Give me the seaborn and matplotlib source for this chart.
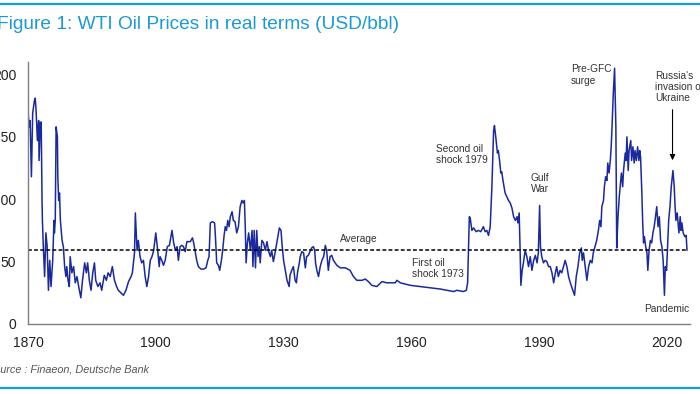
import numpy as np
import pandas as pd
import matplotlib
matplotlib.use("Agg")
import matplotlib.pyplot as plt
import seaborn as sns

# values (year, real USD/bbl)
years = [1870.0, 1870.3, 1870.5, 1870.8, 1871.1, 1871.5, 1871.7, 1871.9, 1872.2, 1872.5,
         1872.6, 1872.9, 1873.1, 1873.3, 1873.4, 1873.6, 1873.9, 1874.2, 1874.5, 1874.8,
         1875.1, 1875.4, 1875.8, 1876.1, 1876.2, 1876.4, 1876.6, 1876.9, 1877.0, 1877.2,
         1877.4, 1877.6, 1878.0, 1878.3, 1878.6, 1878.9, 1879.1, 1879.4, 1879.7, 1879.9,
         1880.3, 1880.7, 1881.1, 1881.5, 1881.9, 1882.4, 1882.8, 1883.3, 1883.7, 1884.0,
         1884.4, 1884.8, 1885.2, 1885.6, 1885.9, 1886.4, 1886.9, 1887.3, 1887.9, 1888.4,
         1888.8, 1889.3, 1889.8, 1890.3, 1890.8, 1891.2, 1891.8, 1892.4, 1893.0, 1893.6,
         1894.2, 1894.5, 1895.0, 1895.2, 1895.6, 1895.9, 1896.3, 1896.7, 1897.1, 1897.5,
         1897.9, 1898.3, 1898.7, 1899.1, 1899.5, 1900.0, 1900.5, 1900.8, 1901.0, 1901.4,
         1901.8, 1902.2, 1902.7, 1903.2, 1903.8, 1904.2, 1904.6, 1905.0, 1905.3, 1905.7,
         1906.1, 1906.5, 1906.9, 1907.3, 1908.1, 1908.6, 1908.9, 1909.2, 1909.6, 1910.0,
         1910.6, 1911.2, 1911.8, 1912.2, 1912.5, 1912.8, 1913.3, 1913.8, 1914.0, 1914.3,
         1914.7, 1915.0, 1915.4, 1915.7, 1916.0, 1916.3, 1916.6, 1916.9, 1917.2, 1917.5,
         1917.9, 1918.2, 1918.6, 1919.0, 1919.4, 1919.8, 1920.2, 1920.5, 1920.8, 1921.0,
         1921.2, 1921.5, 1921.8, 1922.2, 1922.6, 1922.8, 1923.1, 1923.4, 1923.7, 1924.0,
         1924.3, 1924.5, 1924.9, 1925.3, 1925.7, 1926.1, 1926.5, 1926.9, 1927.2, 1927.6,
         1928.0, 1928.4, 1929.0, 1929.4, 1929.6, 1930.0, 1930.4, 1930.8, 1931.3, 1931.5,
         1931.9, 1932.3, 1932.7, 1933.0, 1933.3, 1933.7, 1933.9, 1934.3, 1934.7, 1935.1,
         1935.4, 1935.8, 1936.2, 1936.6, 1937.0, 1937.3, 1937.5, 1937.8, 1938.2, 1938.6,
         1939.0, 1939.4, 1939.8, 1940.1, 1940.5, 1940.9, 1941.3, 1941.7, 1942.5, 1943.3,
         1944.5, 1945.6, 1946.4, 1947.2, 1948.4, 1949.2, 1949.9, 1950.7, 1951.9, 1953.1,
         1954.2, 1956.2, 1956.6, 1957.4, 1959.7, 1962.1, 1964.4, 1966.8, 1968.3, 1969.9,
         1970.7, 1972.2, 1972.9, 1973.2, 1973.6, 1973.8, 1974.2, 1974.6, 1975.2, 1975.7,
         1976.3, 1976.9, 1977.3, 1977.7, 1978.1, 1978.5, 1978.9, 1979.3, 1979.5, 1979.8,
         1980.2, 1980.4, 1980.7, 1981.0, 1981.2, 1981.6, 1982.0, 1982.4, 1982.8, 1983.2,
         1983.6, 1984.0, 1984.4, 1984.8, 1985.0, 1985.3, 1985.5, 1985.7, 1986.0, 1986.3,
         1986.7, 1987.1, 1987.5, 1987.9, 1988.3, 1988.7, 1989.1, 1989.5, 1989.8, 1990.1,
         1990.3, 1990.6, 1991.0, 1991.4, 1991.8, 1992.2, 1992.6, 1993.0, 1993.4, 1993.8,
         1994.1, 1994.5, 1994.9, 1995.3, 1995.7, 1996.1, 1996.5, 1996.9, 1997.3, 1997.9,
         1998.3, 1998.7, 1999.1, 1999.5, 1999.9, 2000.1, 2000.4, 2000.8, 2001.2, 2001.6,
         2002.0, 2002.4, 2002.7, 2003.1, 2003.5, 2003.9, 2004.2, 2004.5, 2004.7, 2005.1,
         2005.3, 2005.6, 2005.9, 2006.1, 2006.4, 2006.7, 2006.9, 2007.1, 2007.4, 2007.7,
         2008.0, 2008.2, 2008.5, 2008.8, 2009.0, 2009.3, 2009.6, 2009.8, 2010.2, 2010.4,
         2010.6, 2010.9, 2011.1, 2011.5, 2011.7, 2012.0, 2012.3, 2012.5, 2012.8, 2013.1,
         2013.4, 2013.6, 2013.8, 2014.1, 2014.3, 2014.5, 2014.7, 2015.0, 2015.3, 2015.5,
         2015.8, 2016.1, 2016.4, 2016.7, 2017.0, 2017.3, 2017.6, 2017.9, 2018.2, 2018.5,
         2018.8, 2019.1, 2019.4, 2019.6, 2019.9, 2020.2, 2020.4, 2020.7, 2021.0, 2021.4,
         2021.7, 2021.9, 2022.1, 2022.4, 2022.8, 2023.1, 2023.3, 2023.5, 2023.8, 2024.2,
         2024.5, 2024.7]
prices = [170, 158, 163, 118, 169, 179, 181, 171, 147, 163,
          131, 161, 162, 97, 81, 62, 38, 73, 62, 27,
          51, 30, 51, 83, 73, 83, 158, 150, 118, 99,
          105, 83, 67, 62, 46, 38, 46, 35, 30, 54,
          41, 46, 33, 38, 30, 21, 35, 49, 41, 49,
          35, 27, 41, 49, 35, 30, 33, 27, 39, 35,
          41, 38, 46, 35, 30, 27, 25, 23, 27, 34,
          38, 41, 57, 89, 59, 67, 54, 49, 51, 38,
          30, 38, 51, 54, 59, 73, 57, 46, 54, 51,
          47, 51, 62, 63, 75, 65, 59, 62, 51, 62,
          63, 62, 58, 66, 66, 69, 65, 59, 51, 46,
          44, 44, 45, 51, 54, 81, 82, 81, 70, 49,
          47, 43, 51, 59, 70, 78, 75, 83, 78, 86,
          90, 83, 82, 73, 78, 94, 99, 97, 99, 78,
          49, 65, 73, 59, 75, 46, 75, 45, 75, 54,
          62, 49, 67, 65, 59, 66, 58, 54, 59, 50,
          57, 65, 77, 75, 65, 51, 43, 35, 30, 39,
          43, 46, 35, 33, 42, 49, 54, 58, 57, 45,
          54, 55, 58, 61, 62, 59, 49, 43, 38, 46,
          51, 54, 63, 59, 43, 54, 55, 51, 47, 45,
          45, 43, 38, 35, 35, 36, 34, 31, 30, 34,
          33, 33, 35, 33, 31, 30, 29, 28, 27, 26,
          27, 26, 27, 33, 86, 85, 75, 77, 74, 75,
          74, 78, 74, 75, 71, 78, 110, 155, 159, 150,
          137, 139, 131, 121, 122, 113, 105, 102, 99, 97,
          93, 86, 83, 86, 81, 89, 62, 31, 43, 49,
          59, 54, 46, 54, 43, 51, 55, 49, 57, 95,
          62, 54, 49, 51, 50, 46, 46, 41, 33, 41,
          46, 38, 43, 41, 46, 51, 46, 38, 33, 27,
          23, 38, 46, 57, 61, 51, 57, 46, 35, 46,
          51, 49, 57, 62, 67, 75, 83, 78, 94, 99,
          110, 118, 115, 129, 121, 131, 142, 158, 185, 205,
          158, 61, 86, 102, 110, 121, 110, 123, 137, 131,
          150, 123, 139, 147, 131, 142, 129, 139, 131, 142,
          131, 139, 134, 105, 81, 65, 70, 62, 57, 43,
          59, 67, 65, 73, 78, 86, 94, 78, 86, 67,
          62, 51, 23, 46, 43, 67, 83, 94, 110, 123,
          110, 94, 83, 89, 73, 86, 75, 81, 73, 70,
          71, 59]
average = 59
x_ticks = [1870, 1900, 1930, 1960, 1990, 2020]
y_ticks = [0, 50, 100, 150, 200]

title = "Figure 1: WTI Oil Prices in real terms (USD/bbl)"
source = "Source : Finaeon, Deutsche Bank"

line_color = "#1a2a9e"
accent = "#1a9ad7"
text_color = "#333333"
axis_color = "#7f7f7f"

sns.set_style("white")
plt.rcParams["font.family"] = ["Liberation Sans", "DejaVu Sans"]

df = pd.DataFrame({"year": years, "price": prices})

fig = plt.figure(figsize=(7, 3.94), dpi=100)
ax = fig.add_axes([0.04, 0.1777, 0.9457, 0.665])

sns.lineplot(data=df, x="year", y="price", ax=ax, color=line_color,
             linewidth=1.1, estimator=None, sort=False)
ax.hlines(average, years[0], years[-1], colors="black", linestyles=(0, (2.5, 1.5)),
          linewidth=1.1)

ax.set_xlim(1870, 2025.4)
ax.set_ylim(0, 210)
ax.set_xticks(x_ticks)
ax.set_yticks(y_ticks)
ax.set_xlabel("")
ax.set_ylabel("")
for side in ["top", "right"]:
    ax.spines[side].set_visible(False)
for side in ["left", "bottom"]:
    ax.spines[side].set_color(axis_color)
    ax.spines[side].set_linewidth(1.0)
ax.tick_params(axis="both", direction="out", length=4, width=1, color=axis_color,
               labelsize=10, labelcolor="#222222")
ax.tick_params(axis="y", pad=4.5)
ax.tick_params(axis="x", pad=5)

# annotations
ann = dict(fontsize=7.3, color=text_color, ha="left", va="center", linespacing=1.15)
ax.text(1943.2, 68, "Average", **ann)
ax.text(1960.1, 44.5, "First oil\nshock 1973", **ann)
ax.text(1965.8, 136, "Second oil\nshock 1979", **ann)
ax.text(1988.0, 112.5, "Gulf\nWar", **ann)
ax.text(1997.5, 199.5, "Pre-GFC\nsurge", **ann)
ax.text(2017.2, 190, "Russia's\ninvasion of\nUkraine", **ann)
ax.text(2014.6, 12, "Pandemic", **ann)
ax.annotate("", xy=(2021.3, 129), xytext=(2021.3, 174),
            arrowprops=dict(arrowstyle="-|>", color="black", lw=0.8, mutation_scale=8))

# title, source and the blue rules
fig.text(-3 / 700, 1 - 29 / 394, title, fontsize=13.8, color=accent, ha="left", va="baseline")
fig.text(-13.3 / 700, 1 - 372 / 394, source, fontsize=7.8, color="#555555", style="italic",
         ha="left", va="baseline")
fig.add_artist(plt.Line2D([0, 1], [1 - 3.5 / 394] * 2, color=accent, linewidth=1.6,
                          transform=fig.transFigure))
fig.add_artist(plt.Line2D([0, 1], [1 - 388 / 394] * 2, color=accent, linewidth=1.6,
                          transform=fig.transFigure))

fig.savefig("out.png", dpi=100)
